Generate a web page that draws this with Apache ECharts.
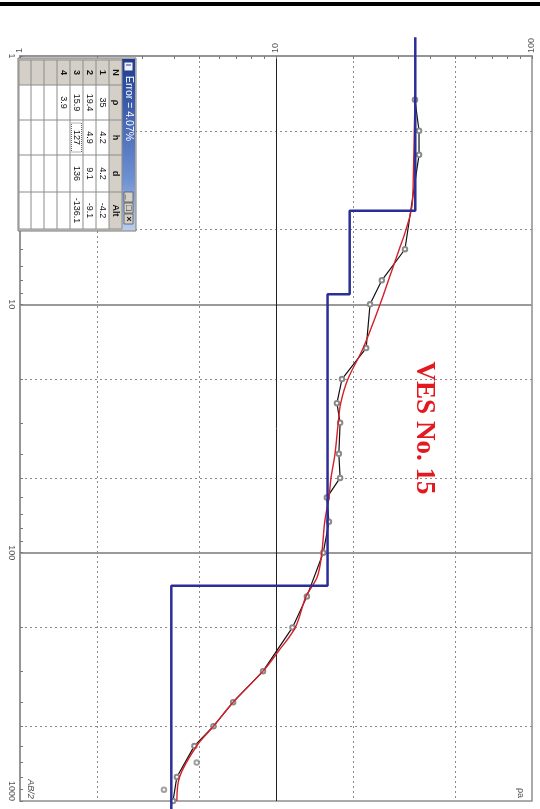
<!DOCTYPE html>
<html>
<head>
<meta charset="utf-8">
<script src="https://cdn.jsdelivr.net/npm/echarts@6/dist/echarts.min.js"></script>
<style>
  html, body { margin: 0; padding: 0; background: #fff; }
  #chart { width: 540px; height: 809px; }
</style>
</head>
<body>
<div id="chart"></div>
<script>
// VES 15 sounding curve: apparent resistivity against half-spacing AB/2,
// drawn with AB/2 running down the page and resistivity across it.

// Field readings (AB/2 in m, apparent resistivity in Ohm.m)
const abObserved  = [1.5, 2, 2.5, 6, 8, 10, 15, 20, 25, 30, 40, 50, 60, 75, 100, 150, 200, 300, 400, 500, 600, 800, 1000];
const rhoObserved = [34.9, 36.2, 36.2, 31.9, 25.9, 23.3, 22.5, 18.1, 17.3, 17.8, 17.6, 17.8, 15.8, 16.1, 15.3, 13.2, 11.6, 8.9, 6.8, 5.7, 4.8, 4.1, 3.96];

// Readings from the overlapping segment, plotted without a connecting line
const abExtra  = [700, 900];
const rhoExtra = [4.9, 3.65];

// Calculated response of the fitted model
const abCalc  = [1.5, 2, 3, 4, 5, 6, 8, 10, 15, 20, 25, 30, 40, 50, 60, 75, 100, 125, 150, 200, 250, 300, 400, 500, 600, 800, 1000];
const rhoCalc = [34.9, 34.7, 34.4, 34.0, 32.2, 30.3, 27.5, 25.5, 21.9, 19.1, 17.9, 17.5, 17.0, 16.4, 16.1, 15.5, 15.1, 14.5, 13.1, 11.9, 10.2, 8.9, 6.8, 5.7, 4.9, 4.2, 4.1];

// Layered model (N, rho, h, d, Alt)
const layerNo    = [1, 2, 3, 4];
const layerRho   = [35, 19.4, 15.9, 3.9];
const layerThick = [4.2, 4.9, 127];
const layerDepth = [4.2, 9.1, 136];
const layerAlt   = [-4.2, -9.1, -136.1];
const fitError   = '4.07%';

// Extent of the model column beyond the frame
const modelTop = 0.84;
const modelBottom = 1100;

// Axis ticks, labels and grid values
const rhoTickValues  = [1, 2, 3, 4, 5, 6, 7, 8, 9, 10, 20, 30, 40, 50, 60, 70, 80, 90, 100];
const rhoLabelValues = [1, 10, 100];
const rhoDotted      = [2, 5, 20, 50];
const rhoSolid       = [10];
const abTickValues   = [1, 2, 3, 4, 5, 6, 7, 8, 9, 10, 20, 30, 40, 50, 60, 70, 80, 90, 100, 200, 300, 400, 500, 600, 700, 800, 900, 1000];
const abLabelValues  = [1, 10, 100, 1000];
const abDotted       = [2, 5, 20, 50, 200, 500];
const abSolid        = [10, 100];

const pairs = (rhos, abs) => abs.map((a, i) => [rhos[i], a]);

function modelSteps() {
  const pts = [[layerRho[0], modelTop]];
  for (let i = 0; i < layerDepth.length; i++) {
    pts.push([layerRho[i], layerDepth[i]]);
    pts.push([layerRho[i + 1], layerDepth[i]]);
  }
  pts.push([layerRho[layerRho.length - 1], modelBottom]);
  return pts;
}

const labelFont = '"Liberation Sans", Arial, sans-serif';
const plainNumber = v => String(v);

function gridAxis(values, lineStyle, extra) {
  return Object.assign({
    type: 'log', logBase: 10,
    axisLine: { show: false },
    axisTick: { show: false, customValues: values },
    axisLabel: { show: false },
    splitLine: { show: true, lineStyle: lineStyle },
    silent: true
  }, extra);
}

// ---- parameter window (rotated with the plot) ----
const G = [];
const ROT = -Math.PI / 2;
function rect(x, y, w, h, style, z) {
  G.push({ type: 'rect', silent: true, z: z || 100, shape: { x: x, y: y, width: w, height: h }, style: style });
}
function line(x1, y1, x2, y2, stroke, lw, dash) {
  G.push({ type: 'line', silent: true, z: 102, shape: { x1: x1, y1: y1, x2: x2, y2: y2 },
           style: { stroke: stroke, lineWidth: lw || 1, lineDash: dash || null } });
}
function txt(x, y, s, opt) {
  G.push({ type: 'text', silent: true, z: 110, x: x, y: y, rotation: ROT,
           style: Object.assign({ text: s, fill: '#111', font: '9px ' + labelFont, align: 'center', verticalAlign: 'middle' }, opt || {}) });
}

// column edges run down the page, row edges run right to left
const colEdges = [60, 85, 120, 155, 192, 229];
const rowEdges = [122, 109, 96, 83, 70, 57, 44, 31, 19];
const xL = rowEdges[rowEdges.length - 1], xR = rowEdges[0];

// window frame and title bar
rect(xL - 1, 58, 136 - xL + 1, 173, { fill: '#d4d0c8', stroke: '#7a7a7a', lineWidth: 1 }, 99);
rect(xR, 59, 13, 171, { fill: new echarts.graphic.LinearGradient(0, 0, 0, 1, [
  { offset: 0, color: '#1d3c92' }, { offset: 0.7, color: '#6d90d2' }, { offset: 1, color: '#b9cdf0' }]) }, 100);
rect(xR + 2, 62, 9, 9, { fill: '#eef2fb', stroke: '#2b3f8f', lineWidth: 1 }, 101);
line(xR + 4, 65, xR + 9, 65, '#2b3f8f', 1);
txt(xR + 6.5, 76, 'Error = ' + fitError, { fill: '#fff', align: 'left', font: '10.5px ' + labelFont });
[[192, '_'], [203, '\u25A1'], [214, '\u00D7']].forEach(function (b) {
  rect(xR + 2, b[0], 9, 10, { fill: '#d4d0c8', stroke: '#555', lineWidth: 0.8 }, 101);
  txt(xR + 6.5, b[0] + 5, b[1], { font: 'bold 9px ' + labelFont, fill: '#111' });
});

// white body, gray header row and number column
rect(xL, colEdges[0], xR - xL, colEdges[5] - colEdges[0], { fill: '#fff' }, 100);
rect(rowEdges[1], colEdges[0], xR - rowEdges[1], colEdges[5] - colEdges[0], { fill: '#d4d0c8' }, 100);
rect(xL, colEdges[0], xR - xL, colEdges[1] - colEdges[0], { fill: '#d4d0c8' }, 100);
colEdges.forEach(function (y) { line(xL, y, xR, y, '#8c8c8c', 1); });
rowEdges.forEach(function (x) { line(x, colEdges[0], x, colEdges[5], '#8c8c8c', 1); });

function cellX(r) { return (rowEdges[r] + rowEdges[r + 1]) / 2; }
function cellY(c) { return (colEdges[c] + colEdges[c + 1]) / 2; }

['N', '\u03C1', 'h', 'd', 'Alt'].forEach(function (h, c) {
  txt(cellX(0), cellY(c), h, { font: 'bold 9px ' + labelFont });
});
layerNo.forEach(function (n, i) {
  const r = i + 1;
  txt(cellX(r), cellY(0), String(n), { font: 'bold 9px ' + labelFont });
  txt(cellX(r), cellY(1), String(layerRho[i]));
  if (i < layerThick.length) {
    txt(cellX(r), cellY(2), String(layerThick[i]));
    txt(cellX(r), cellY(3), String(layerDepth[i]));
    txt(cellX(r), cellY(4), String(layerAlt[i]));
  }
});
// focus box on the edited cell
G.push({ type: 'rect', silent: true, z: 111, shape: { x: rowEdges[4] + 1.5, y: colEdges[2] + 3, width: 10, height: colEdges[3] - colEdges[2] - 6 },
         style: { fill: null, stroke: '#444', lineWidth: 0.8, lineDash: [1, 1] } });

// page rule, sounding title and axis captions
rect(0, 2, 540, 4, { fill: '#000' }, 120);
txt(424, 428, 'VES No. 15', { fill: '#e3191f', font: 'bold 27px "Liberation Serif", "Times New Roman", serif' });
txt(520, 793, '\u03C1a', { fill: '#555', font: '9px ' + labelFont });
txt(30, 789, 'AB/2', { fill: '#555', font: 'italic 9px ' + labelFont });

const markerStyle = { color: '#8a8a8a', borderWidth: 0.9 };

const chart = echarts.init(document.getElementById('chart'));
chart.setOption({
  animation: false,
  backgroundColor: '#fff',
  grid: { left: 20, right: 8, top: 56, bottom: 8, show: true, borderColor: '#8f8f8f', borderWidth: 1.5, backgroundColor: '#fff' },
  xAxis: [
    {
      type: 'log', logBase: 10, min: 1, max: 100, position: 'top',
      axisLine: { show: true, lineStyle: { color: '#8f8f8f', width: 1.5 } },
      axisTick: { show: true, inside: true, length: 3, customValues: rhoTickValues, lineStyle: { color: '#777' } },
      axisLabel: { customValues: rhoLabelValues, formatter: plainNumber, rotate: -90, fontSize: 9, color: '#555', fontFamily: labelFont, margin: 3 },
      splitLine: { show: false }
    },
    gridAxis(rhoDotted, { color: '#8a8a8a', width: 1, type: [2, 3] }, { min: 1, max: 100, position: 'top' }),
    gridAxis(rhoSolid, { color: '#222', width: 1 }, { min: 1, max: 100, position: 'top' })
  ],
  yAxis: [
    {
      type: 'log', logBase: 10, min: 1, max: 1000, inverse: true, position: 'left',
      axisLine: { show: true, lineStyle: { color: '#8f8f8f', width: 1.5 } },
      axisTick: { show: true, inside: true, length: 3, customValues: abTickValues, lineStyle: { color: '#777' } },
      axisLabel: { customValues: abLabelValues, formatter: plainNumber, rotate: -90, fontSize: 9, color: '#555', fontFamily: labelFont, margin: 4, alignMaxLabel: 'right' },
      splitLine: { show: false }
    },
    gridAxis(abDotted, { color: '#8a8a8a', width: 1, type: [2, 3] }, { min: 1, max: 1000, inverse: true }),
    gridAxis(abSolid, { color: '#9a9a9a', width: 1.8 }, { min: 1, max: 1000, inverse: true })
  ],
  series: [
    {
      name: 'observed', type: 'line', data: pairs(rhoObserved, abObserved),
      symbol: 'emptyCircle', symbolSize: 4.5, z: 3,
      lineStyle: { color: '#111', width: 1.2 },
      itemStyle: markerStyle
    },
    {
      name: 'extra', type: 'scatter', data: pairs(rhoExtra, abExtra),
      symbol: 'emptyCircle', symbolSize: 4.5, z: 3,
      itemStyle: markerStyle
    },
    {
      name: 'calculated', type: 'line', data: pairs(rhoCalc, abCalc),
      symbol: 'none', smooth: 0.35, z: 4,
      lineStyle: { color: '#d42027', width: 1.4 }
    },
    {
      name: 'model', type: 'line', data: modelSteps(),
      symbol: 'none', clip: false, z: 5,
      lineStyle: { color: '#2b2e98', width: 2.5 }
    }
  ],
  graphic: { elements: G }
});
</script>
</body>
</html>
